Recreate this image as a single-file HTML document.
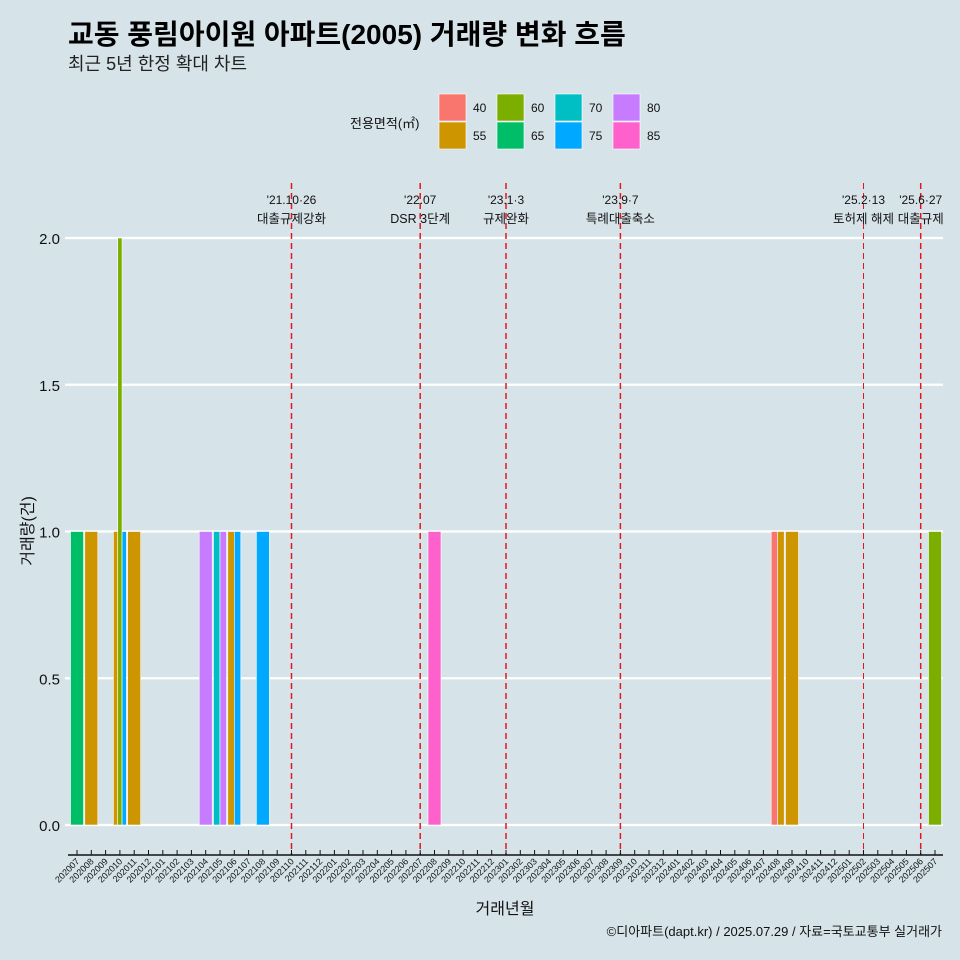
<!DOCTYPE html>
<html><head><meta charset="utf-8"><style>
html,body{margin:0;padding:0;background:#d6e4ea;overflow:hidden;width:960px;height:960px;}
svg{display:block;}
svg text{font-family:"Liberation Sans","Noto Sans CJK KR",sans-serif;}
</style></head><body>
<svg id="c" width="960" height="960" viewBox="0 0 960 960" xmlns="http://www.w3.org/2000/svg">
<rect width="960" height="960" fill="#d6e4ea"/>
<text x="68" y="44" font-size="28" font-weight="bold" fill="#000">교동 풍림아이원 아파트(2005) 거래량 변화 흐름</text>
<text x="68" y="70" font-size="18" fill="#222">최근 5년 한정 확대 차트</text>
<g id="grid"></g>
<g id="bars"></g>
<g id="events"></g>
<g id="axes"></g>
<g id="legend"></g>
<text x="505" y="914" font-size="16" text-anchor="middle" fill="#111">거래년월</text>
<text transform="translate(33,531) rotate(-90)" font-size="16" text-anchor="middle" fill="#111">거래량(건)</text>
<text x="942" y="936" font-size="13" text-anchor="end" fill="#111">©디아파트(dapt.kr) / 2025.07.29 / 자료=국토교통부 실거래가</text>
</svg>
<script>
const months = [];
for (let i = 0; i < 61; i++) { const y = 2020 + Math.floor((6 + i) / 12), m = (6 + i) % 12 + 1; months.push(y + String(m).padStart(2, '0')); }
const areas = ['40','55','60','65','70','75','80','85'];
const areaColors = ['#F8766D','#CD9600','#7CAE00','#00BE67','#00BFC4','#00A9FF','#C77CFF','#FF61CC'];
const barMonths = ['202007','202008','202010','202010','202010','202011','202104','202105','202105','202106','202106','202108','202208','202408','202408','202409','202507'];
const barAreas  = ['65','55','55','60','75','55','80','70','80','55','75','75','85','40','55','55','60'];
const barCounts = [1,1,1,2,1,1,1,1,1,1,1,1,1,1,1,1,1];
const yTicks = [0, 0.5, 1.0, 1.5, 2.0];
const yTickLabels = ['0.0','0.5','1.0','1.5','2.0'];
const eventMonths = ['202110','202207','202301','202309','202502','202506'];
const eventDates = ["'21.10·26","'22.07","'23.1·3","'23.9·7","'25.2·13","'25.6·27"];
const eventLabels = ['대출규제강화','DSR 3단계','규제완화','특례대출축소','토허제 해제','대출규제'];
const eventWidths = [1.5,1.5,1.5,1.5,1,1.5];

const NS = 'http://www.w3.org/2000/svg';
function mk(tag, attrs, parent) { const e = document.createElementNS(NS, tag); for (const k in attrs) e.setAttribute(k, attrs[k]); parent.appendChild(e); return e; }
const xScale = m => 77 + months.indexOf(m) * 14.3;
const yScale = v => 825 - v * 293.5;
const bw = 13;

const grid = document.getElementById('grid');
yTicks.forEach((t, i) => {
  const l = mk('line', {x1: 65, x2: 943, y1: yScale(t), y2: yScale(t), stroke: '#fff', 'stroke-width': 2.2}, grid);
  
  
  const tx = mk('text', {x: 60, y: yScale(t) + 6, 'font-size': 15, 'text-anchor': 'end', fill: '#111'}, grid);
  tx.textContent = yTickLabels[i];
  
  
});

const bars = document.getElementById('bars');
months.forEach(m => {
  const idx = []; barMonths.forEach((bm, i) => { if (bm === m) idx.push(i); });
  const n = idx.length; if (!n) return;
  const w = bw / n;
  idx.forEach((i, k) => {
    const x = xScale(m) - bw / 2 + k * w;
    const r = mk('rect', {x: x, y: yScale(barCounts[i]), width: w, height: yScale(0) - yScale(barCounts[i]), fill: areaColors[areas.indexOf(barAreas[i])], stroke: '#fff', 'stroke-width': 0.6}, bars);
    
    
  });
});

const ev = document.getElementById('events');
eventMonths.forEach((m, i) => {
  const x = xScale(m);
  const l = mk('line', {x1: x, x2: x, y1: 183, y2: 855, stroke: '#e8141c', 'stroke-width': eventWidths[i], 'stroke-dasharray': '6,4'}, ev);
  
  
  const t1 = mk('text', {x: x, y: 204, 'font-size': 12, 'text-anchor': 'middle', fill: '#111'}, ev);
  t1.textContent = eventDates[i];
  
  
  const t2 = mk('text', {x: x, y: 223, 'font-size': 12.5, 'text-anchor': 'middle', fill: '#111'}, ev);
  t2.textContent = eventLabels[i];
  
  
});

const ax = document.getElementById('axes');
const al = mk('line', {x1: 68, x2: 943, y1: 855, y2: 855, stroke: '#111', 'stroke-width': 1.5}, ax);


months.forEach(m => {
  const x = xScale(m);
  const tk = mk('line', {x1: x, x2: x, y1: 850, y2: 855, stroke: '#111', 'stroke-width': 1}, ax);
  
  
  const t = mk('text', {transform: 'translate(' + (x + 3) + ',862) rotate(-45)', 'font-size': 9, 'text-anchor': 'end', fill: '#111'}, ax);
  t.textContent = m;
  
  
});

const lg = document.getElementById('legend');
const lt = mk('text', {x: 350, y: 128, 'font-size': 13, fill: '#111'}, lg);
lt.textContent = '전용면적(㎡)';


areas.forEach((a, i) => {
  const col = Math.floor(i / 2), row = i % 2;
  const x = 439 + col * 58, y = 94 + row * 28;
  const r = mk('rect', {x: x, y: y, width: 27, height: 27, fill: areaColors[i], stroke: '#fff', 'stroke-width': 0.6}, lg);
  
  
  const t = mk('text', {x: x + 34, y: y + 18, 'font-size': 12, fill: '#111'}, lg);
  t.textContent = a;
  
  
});
</script>
</body></html>
